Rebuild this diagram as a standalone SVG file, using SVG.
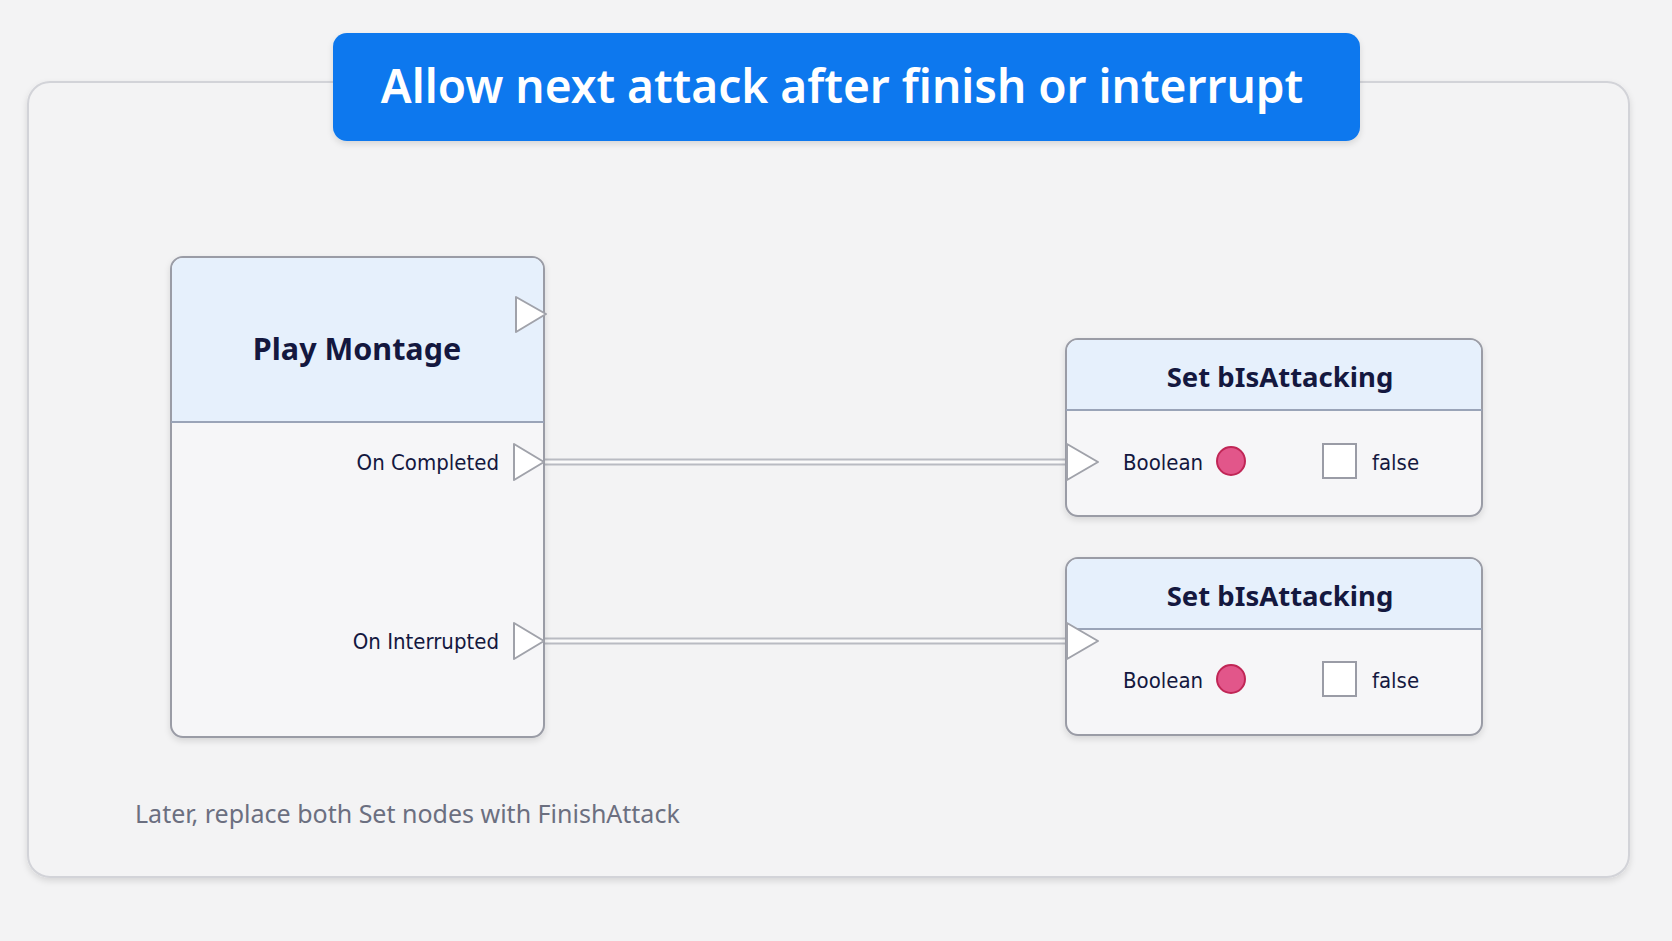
<svg xmlns="http://www.w3.org/2000/svg" width="1672" height="941" viewBox="0 0 1672 941">
<defs>
<style>
.node{fill:#f6f6f8;stroke:#9a9ca6;stroke-width:2}
.hdr{fill:#e6f0fc}
.sep{stroke:#9aa4b8;stroke-width:2}
.pin{fill:#fff;stroke:#a0a2aa;stroke-width:2;stroke-linejoin:round}
.t{font-family:"Noto Sans","Liberation Sans",sans-serif;fill:#14183f}
.c{font-family:"DejaVu Sans Condensed","Liberation Sans Narrow","Liberation Sans",sans-serif;font-stretch:condensed;fill:#14183f;font-size:22px}
.wire{fill:none;stroke:#b9bbc2;stroke-width:7}
.wire2{fill:none;stroke:#fafafa;stroke-width:3}
.dot{fill:#e2568a;stroke:#c02656;stroke-width:2}
.box{fill:#fff;stroke:#9a9ca6;stroke-width:2}
</style>
<filter id="sh" x="-10%" y="-10%" width="120%" height="130%"><feDropShadow dx="0" dy="3" stdDeviation="3" flood-color="#000" flood-opacity="0.12"/></filter>
</defs>
<rect width="1672" height="941" fill="#f3f3f4"/>
<rect x="28" y="82" width="1601" height="795" rx="22" fill="#f3f3f4" stroke="#d2d3d8" stroke-width="2" filter="url(#sh)"/>
<g id="title">
<rect x="333" y="33" width="1027" height="108" rx="14" fill="#0a78ee" filter="url(#sh)"/>
<text x="842" y="103" text-anchor="middle" font-family="Noto Sans,Liberation Sans,sans-serif" font-weight="600" font-size="46" fill="#fff">Allow next attack after finish or interrupt</text>
</g>
<g id="connectors">
<path class="wire" d="M544 462H1068M544 641H1068"/>
<path class="wire2" d="M544 462H1068M544 641H1068"/>
</g>
<g id="playMontage">
<rect class="node" x="171" y="257" width="373" height="480" rx="12" filter="url(#sh)"/>
<path class="hdr" d="M172 422V269a11 11 0 0 1 11-11h349a11 11 0 0 1 11 11V422z"/>
<line class="sep" x1="171" y1="422" x2="544" y2="422"/>
<text class="t" x="357" y="360" text-anchor="middle" font-size="30.5" font-weight="700">Play Montage</text>
<path class="pin" d="M516 297l30 17l-30 18z"/>
<text class="c" x="499" y="470" text-anchor="end">On Completed</text>
<path class="pin" d="M514 444l30 18l-30 18z"/>
<text class="c" x="499" y="649" text-anchor="end">On Interrupted</text>
<path class="pin" d="M514 623l30 18l-30 18z"/>
</g>
<g id="set1">
<rect class="node" x="1066" y="339" width="416" height="177" rx="12" filter="url(#sh)"/>
<path class="hdr" d="M1067 410V351a11 11 0 0 1 11-11h392a11 11 0 0 1 11 11V410z"/>
<line class="sep" x1="1066" y1="410" x2="1482" y2="410"/>
<text class="t" x="1280" y="387" text-anchor="middle" font-size="27.5" font-weight="700">Set bIsAttacking</text>
<path class="pin" d="M1067 444l31 18l-31 18z"/>
<text class="c" x="1123" y="470">Boolean</text>
<circle class="dot" cx="1231" cy="461" r="14"/>
<rect class="box" x="1323" y="444" width="33" height="34"/>
<text class="c" x="1372" y="470">false</text>
</g>
<g id="set2">
<rect class="node" x="1066" y="558" width="416" height="177" rx="12" filter="url(#sh)"/>
<path class="hdr" d="M1067 629V570a11 11 0 0 1 11-11h392a11 11 0 0 1 11 11V629z"/>
<line class="sep" x1="1066" y1="629" x2="1482" y2="629"/>
<text class="t" x="1280" y="606" text-anchor="middle" font-size="27.5" font-weight="700">Set bIsAttacking</text>
<path class="pin" d="M1067 623l31 18l-31 18z"/>
<text class="c" x="1123" y="688">Boolean</text>
<circle class="dot" cx="1231" cy="679" r="14"/>
<rect class="box" x="1323" y="662" width="33" height="34"/>
<text class="c" x="1372" y="688">false</text>
</g>
<text x="135" y="823" font-family="Noto Sans,Liberation Sans,sans-serif" font-size="25" fill="#6b6f80">Later, replace both Set nodes with FinishAttack</text>
</svg>
